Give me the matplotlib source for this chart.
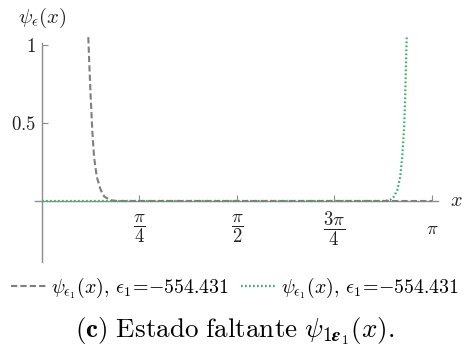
import numpy as np
import matplotlib
matplotlib.use("Agg")
import matplotlib.pyplot as plt

plt.rcParams["mathtext.fontset"] = "cm"
plt.rcParams["font.family"] = ["DejaVu Serif"]

# Left-localised solution (decays away from the left wall)
x_left = [0.373, 0.381, 0.392, 0.405, 0.419, 0.441, 0.473, 0.502, 0.548, 0.60, np.pi]
psi_left = [1.05, 0.88, 0.67, 0.455, 0.284, 0.156, 0.07, 0.028, 0.006, 0.0, 0.0]

# Right-localised solution (grows towards the right wall)
x_right = [0.0, 2.75, 2.803, 2.835, 2.862, 2.886, 2.902, 2.916, 2.926, 2.932, 2.938]
psi_right = [0.0, 0.0, 0.006, 0.028, 0.07, 0.156, 0.284, 0.455, 0.67, 0.88, 1.05]

energy = -554.431
xtick_vals = [np.pi / 4, np.pi / 2, 3 * np.pi / 4, np.pi]
xtick_labels = [r"$\dfrac{\pi}{4}$", r"$\dfrac{\pi}{2}$", r"$\dfrac{3\pi}{4}$", r"$\pi$"]
ytick_vals = [0.5, 1.0]
ytick_labels = [r"$0.5$", r"$1$"]

gray = "#7f7f7f"
green = "#3db46d"
axis_col = "#8c8c8c"
text_col = "#222222"

legend_label = r"$\psi_{\epsilon_1}(x),\,\epsilon_1\!=\!{-}554.431$"

fig = plt.figure(figsize=(4.7, 3.51), dpi=100)
ax = fig.add_axes([0.0735, 0.2496, 0.8637, 0.649])

ax.plot(x_right, psi_right, color=green, lw=1.6, linestyle=(0, (0.8, 1.0)),
        label=legend_label, zorder=3)
ax.plot(x_left, psi_left, color=gray, lw=1.5, linestyle=(0, (3.0, 1.5)),
        label=legend_label, zorder=4)

ax.set_xlim(-0.06, 3.21)
ax.set_ylim(-0.40, 1.06)

for s in ("top", "right"):
    ax.spines[s].set_visible(False)
ax.spines["left"].set_position(("data", 0))
ax.spines["bottom"].set_position(("data", 0))
ax.spines["left"].set_bounds(-0.39, 1.01)
ax.spines["bottom"].set_bounds(-0.056, 3.19)
for s in ("left", "bottom"):
    ax.spines[s].set_color(axis_col)
    ax.spines[s].set_linewidth(1.0)

ax.set_xticks(xtick_vals)
ax.set_xticklabels(xtick_labels)
ax.set_yticks(ytick_vals)
ax.set_yticklabels(ytick_labels)
ax.tick_params(axis="both", direction="in", length=4, width=0.8,
               color=axis_col, labelcolor=text_col, labelsize=13.5)
ax.tick_params(axis="x", pad=20)
ax.tick_params(axis="y", pad=4)
for lab in ax.get_xticklabels():
    lab.set_verticalalignment("center")

fig.text(42 / 470, 1 - 18 / 351, r"$\psi_\epsilon(x)$", ha="center", va="center",
         fontsize=15, color=text_col)
fig.text(456 / 470, 1 - 201 / 351, r"$x$", ha="center", va="center",
         fontsize=14.5, color=text_col)

handles, labels = ax.get_legend_handles_labels()
fig.legend([handles[1], handles[0]], [labels[1], labels[0]], loc="center",
           bbox_to_anchor=(0.5, 1 - 288 / 351), ncol=2, frameon=False,
           fontsize=14.3, handlelength=1.8, handletextpad=0.2, columnspacing=0.6,
           borderpad=0.0)

fig.text(0.5, 1 - 331 / 351,
         r"$\mathbf{(c)}\ \mathrm{Estado\ faltante}\ \psi_{\mathbf{1}\boldsymbol{\epsilon}_\mathbf{1}}(x).$",
         ha="center", va="center", fontsize=19.5, color="black")

fig.savefig("out.png", dpi=100)
